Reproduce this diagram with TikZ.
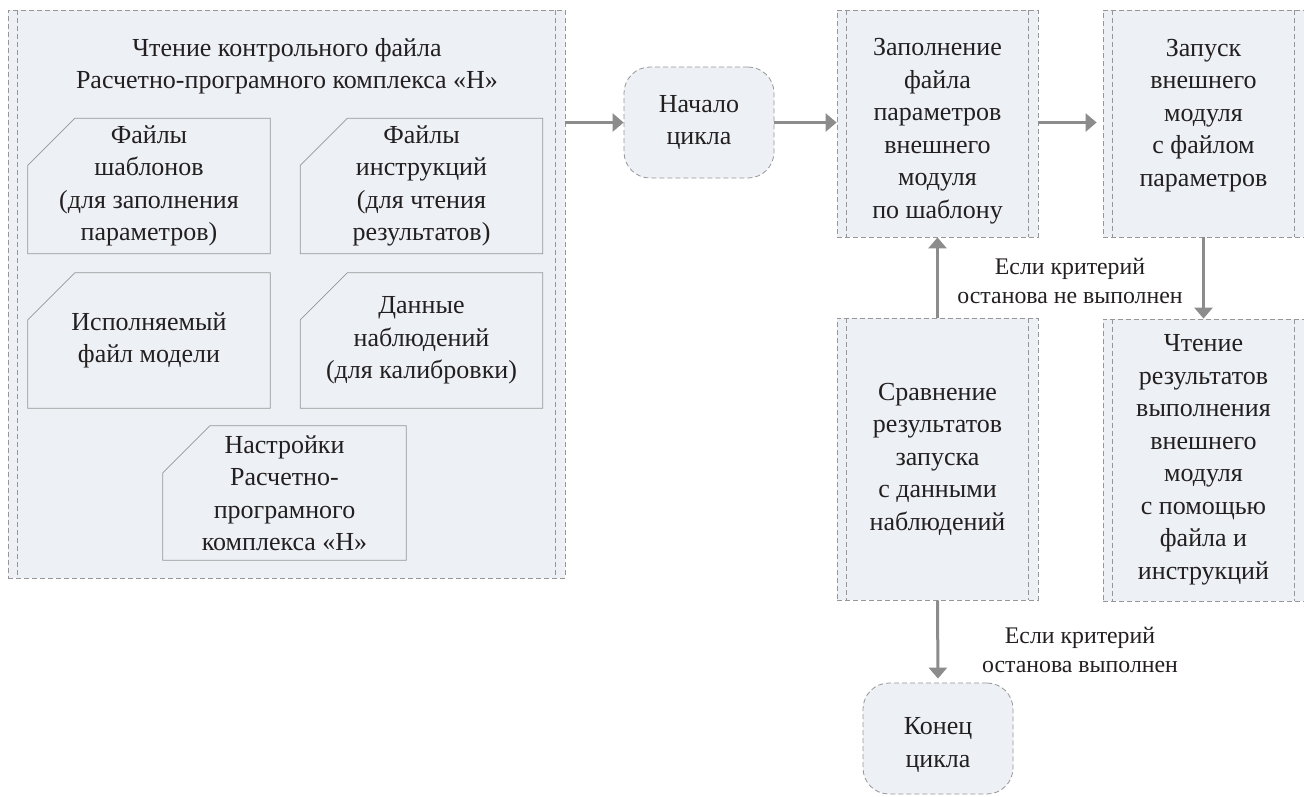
\documentclass[tikz,border=0pt]{standalone}
\usepackage{fontspec}
\setmainfont{Liberation Serif}
\usetikzlibrary{positioning,arrows.meta}
\definecolor{boxfill}{RGB}{237,241,245}
\definecolor{edgegray}{RGB}{150,150,150}
\definecolor{arrowgray}{RGB}{140,140,140}
\definecolor{txt}{RGB}{35,31,32}

\begin{document}
\begin{tikzpicture}[
  x=1pt, y=-1pt,
  font=\fontsize{26}{32.5}\selectfont, text=txt,
  blk/.style={draw=edgegray, dash pattern=on 5pt off 3pt, fill=boxfill, line width=0.8pt},
  proc/.style={blk, align=center, minimum width=201pt, inner sep=0pt},
  term/.style={blk, rounded corners=26pt, align=center, minimum width=150pt, minimum height=111pt, inner sep=0pt},
  card/.style={align=center, minimum width=242pt, minimum height=135pt, inner sep=0pt},
  cardline/.style={draw=edgegray, line width=0.8pt},
  flow/.style={draw=arrowgray, line width=3pt, -{Triangle[length=11pt,width=18pt]}},
  note/.style={align=center, font=\fontsize{23.8}{29}\selectfont}
]
\useasboundingbox (0,0) rectangle (1304,796);

% control file block
\node[blk, minimum width=557pt, minimum height=568pt] (ctl) at (286.5,294) {};
\node[align=center] (title) at (287,66) {Чтение контрольного файла\\Расчетно-програмного комплекса «Н»};
\node[card] (tpl) at (149,186) {Файлы\\шаблонов\\(для заполнения\\параметров)};
\node[card] (ins) at (421.5,186) {Файлы\\инструкций\\(для чтения\\результатов)};
\node[card] (exe) at (149,340.5) {Исполняемый\\файл модели};
\node[card] (obs) at (421.5,340.5) {Данные\\наблюдений\\(для калибровки)};
\node[card, minimum width=243pt, minimum height=134pt] (set) at (284.5,493) {Настройки\\Расчетно-\\програмного\\комплекса «Н»};

% loop
\node[term] (start) at (699,122.5) {Начало\\цикла};
\node[proc, text height=208pt, text depth=19pt] (fill) at (937.5,123.5) {Заполнение\\файла\\параметров\\внешнего\\модуля\\по шаблону};
\node[proc, text height=176pt, text depth=51pt] (run) at (1203.5,123.5) {Запуск\\внешнего\\модуля\\с файлом\\параметров};
\node[proc, minimum height=282pt] (read) at (1203.5,460) {Чтение\\результатов\\выполнения\\внешнего\\модуля\\с помощью\\файла и\\инструкций};
\node[proc, minimum height=282pt] (cmp) at (937.5,459) {Сравнение\\результатов\\запуска\\с данными\\наблюдений};
\node[term, text height=84pt, text depth=27pt] (end) at (938,738.5) {Конец\\цикла};

\node[note] (nok) at (1070,281) {Если критерий\\останова не выполнен};
\node[note] (ok) at (1080,650) {Если критерий\\останова выполнен};

\foreach \n in {ctl,fill,run,read,cmp} {
  \draw[blk, fill=none] ([xshift=10pt]\n.north west) -- ([xshift=10pt]\n.south west)
    ([xshift=-10pt]\n.north east) -- ([xshift=-10pt]\n.south east);
}
\foreach \n in {tpl,ins,exe,obs,set} {
  \draw[cardline] ([yshift=-47pt]\n.north west) -- ([xshift=47pt]\n.north west)
    -- (\n.north east) -- (\n.south east) -- (\n.south west) -- cycle;
}

\draw[flow] (ctl.east |- start.west) -- (start.west);
\draw[flow] (start.east) -- (start.east -| fill.west);
\draw[flow, shorten >=6pt] (fill.east |- start.east) -- (run.west |- start.east);
\draw[flow] (run.south) -- (read.north);
\draw[flow] (cmp.north) -- (fill.south);
\draw[flow, shorten >=4pt] (cmp.south) -- (end.north);
\end{tikzpicture}
\end{document}
